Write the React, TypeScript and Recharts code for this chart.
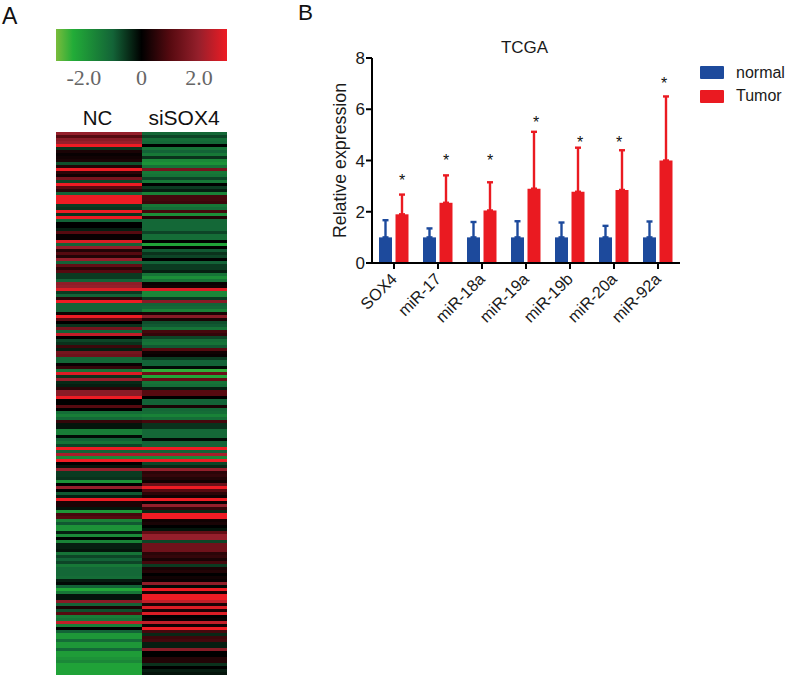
import React from "react";
import { BarChart, ComposedChart, Bar, Line, Cell, XAxis, YAxis, ErrorBar, Legend } from "recharts";

const SANS = "'Liberation Sans', Arial, sans-serif";
const SERIF = "'Liberation Serif', serif";

// Panel A: heatmap, one value per row, top to bottom
const ncValues = [
  2,1,1.8,2,3,-0.5,0.3,0.1,0.2,0.3,-0.8,0.4,3,0.5,0.2,1.5,-0.7,3,1,0.5,-1,3,3,3,-0.6,-0.5,3,-0.5,3,-1,0,0,-0.3,1,0.1,0.1,2.8,-1,2,0.4,1,0.4,2,-1,1.2,0.5,
  1,-0.6,-0.6,-1,1.9,2,2.8,-0.6,-1,0.5,3,-1,-1,-1,0.2,3,1,0,-0.5,1.5,-1,2.5,0,-0.7,-0.5,0.7,-0.3,1.5,1.4,-1.1,-1.1,0.1,0.6,-1.3,2.8,-0.5,2,-0.4,-0.3,0.5,1.8,1.8,3,0,0,1,0,
  -1.2,-1.5,-1.1,0.6,-0.2,-0.2,-1.5,-1.5,-0.1,-1,-1.3,-0.7,3,-1,2.2,-1.7,3,0,-0.2,2,-0.6,-0.6,-0.5,-1.9,0,2,0,-0.9,-0.3,3,0.3,0.3,-0.2,-2,0.8,1,-1.6,-0.9,-1.9,-1.9,-0.3,-1.7,0,-1.6,-0.3,-0.3,
  -0.2,-1.3,-0.7,-1,-0.7,-1.4,-1.1,-1.1,-1.1,-1.2,-0.3,-0.1,-1,-2.3,-1.4,-0.2,-0.2,1.8,-1,0.3,-0.8,1,-1.5,-1.3,2.5,-1.5,0,-1,-2,-2,-1.2,-2,-2,-1.1,-2.1,-2.1,-1.9,-1.7,-2.2,-2.2,-2.2,-2.2,
];
const siValues = [
  -1.1,-0.7,-1.2,-1.1,0,-1.3,-1,-1.4,-0.5,-1.7,-1.9,-1.3,1.5,-1.4,-1.3,-0.7,-1.4,0,-0.6,-0.3,-1.6,0.8,0.8,0.7,-1.4,-1.2,0.8,-1.8,0.4,-1.1,-1.1,-1.1,-1.1,-0.7,-1.2,-1.2,0,-2.2,0,-0.9,-0.5,-0.7,0,-1,-0.6,-0.6,
  -0.3,-1.3,-1.8,-1.3,0.1,0.2,2.8,-1.7,-1.7,-0.6,1.8,-1,-1.1,-1.6,0.3,1.8,0.3,-0.8,-0.9,-1.3,0.8,0.6,-0.7,-1.2,-1.3,-0.9,1,0.2,0.1,-0.6,-1,-1,-0.1,-2.5,1.3,-2.3,1.2,-1.3,-1.2,-0.3,1,1,0,-1,-1,0.3,-1.1,
  -1.2,-1.6,-1.2,0.8,-0.5,-0.5,-1.1,-1.1,-1.1,-0.1,-1,-1,3,-1,2.2,-1.7,3,-0.7,-0.4,2,0.5,0.6,0.4,0.2,1.3,3,1,0.5,0.2,3,0.1,2,0.6,-0.4,3,3,0.2,0.3,0,-0.2,1.2,2,2,-0.7,1.4,1.4,
  1.4,0.5,0.6,0.3,0.8,-0.6,0.3,0.4,0,0.2,0.1,1.9,-0.1,3,0.3,3,3,2.5,0.3,2.8,0.3,2.8,0,0.1,2.5,0.2,3,0.8,-0.4,0.7,0.8,-0.3,-0.3,1.8,0,0,0.4,0.4,-0.5,0,-0.3,-0.2,
];
const heatColumns = ["NC", "siSOX4"];
const scaleTicks = [-2, 0, 2];
const scaleStops: [number, string][] = [
  [-3, "#7abc3c"], [-2.4, "#22ac38"], [-1, "#136337"], [0, "#000000"],
  [1, "#560a10"], [2, "#951f2b"], [3, "#ed1c24"],
];

// Panel B: bars
const categories = ["SOX4", "miR-17", "miR-18a", "miR-19a", "miR-19b", "miR-20a", "miR-92a"];
const normalMean = [1, 1, 1, 1, 1, 1, 1];
const normalTop = [1.67, 1.35, 1.6, 1.63, 1.58, 1.45, 1.62];
const tumorMean = [1.9, 2.35, 2.05, 2.9, 2.78, 2.85, 4.0];
const tumorTop = [2.67, 3.42, 3.15, 5.12, 4.5, 4.4, 6.5];
const starLevel = [3.02, 3.77, 3.77, 5.28, 4.5, 4.5, 6.78];
const STAR_DX = [8, 8, 8, 10, 10, 5, 6];
const yTicks = [0, 2, 4, 6, 8];

const BLUE = "#1d4a9c";
const RED = "#ea1a21";

function hex(c: string) {
  return [1, 3, 5].map((i) => parseInt(c.slice(i, i + 2), 16));
}
function colorOf(v: number) {
  for (let i = 1; i < scaleStops.length; i++) {
    const [v1, c1] = scaleStops[i];
    const [v0, c0] = scaleStops[i - 1];
    if (v <= v1) {
      const t = (v - v0) / (v1 - v0);
      const a = hex(c0);
      const b = hex(c1);
      return `rgb(${a.map((x, k) => Math.round(x + (b[k] - x) * t)).join(",")})`;
    }
  }
  return scaleStops[scaleStops.length - 1][1];
}

const heatRows = ncValues.map((nc, i) => ({ row: i, nc, si: siValues[i], cell: 1 }));
const barRows = categories.map((name, i) => ({
  name,
  normal: normalMean[i],
  normalErr: [0, normalTop[i] - normalMean[i]],
  Tumor: tumorMean[i],
  tumorErr: [0, tumorTop[i] - tumorMean[i]],
  star: starLevel[i],
}));
const scaleRow = [{ name: "scale", range: [-2.97, 2.97] }];

const abs = (left: number, top: number): React.CSSProperties => ({ position: "absolute", left, top });

function XTick(props: any) {
  const { x, y, payload } = props;
  return (
    <text
      x={x + 4}
      y={y + 9}
      textAnchor="end"
      fontFamily={SANS}
      fontSize={16.3}
      fill="#1a1a1a"
      transform={`rotate(-45 ${x + 4} ${y + 9})`}
    >
      {payload.value}
    </text>
  );
}

function StarDot(props: any) {
  const { cx, cy, index } = props;
  return (
    <text key={index} x={cx + STAR_DX[index]} y={cy} textAnchor="middle" fontFamily={SANS} fontSize={16} fill="#111">
      *
    </text>
  );
}

function LegendBox() {
  return (
    <div style={{ width: 107, fontFamily: SANS, fontSize: 16, color: "#1a1a1a" }}>
      {[["normal", BLUE], ["Tumor", RED]].map(([label, color], i) => (
        <div key={label} style={{ position: "absolute", left: 20, top: 8 + i * 23.5, height: 13, display: "flex", alignItems: "center" }}>
          <span style={{ width: 24, height: 13, background: color, display: "inline-block", marginRight: 12, borderRadius: 1 }} />
          <span>{label}</span>
        </div>
      ))}
    </div>
  );
}

export default function App() {
  return (
    <div style={{ position: "absolute", left: 0, top: 0, width: 787, height: 677, background: "#fff", overflow: "hidden" }}>
      <div style={{ ...abs(2, 3.5), fontFamily: SANS, fontSize: 23, lineHeight: "24px", color: "#111" }}>A</div>

      {/* Colour scale */}
      <div style={abs(56, 29)}>
        <BarChart
          width={171}
          height={62}
          data={scaleRow}
          layout="vertical"
          margin={{ top: 0, right: 0, bottom: 0, left: 0 }}
          barCategoryGap={0}
        >
          <defs>
            <linearGradient id="scaleGrad" x1="0" y1="0" x2="1" y2="0">
              {scaleStops.map(([v, c]) => (
                <stop key={v} offset={`${((v + 3) / 6) * 100}%`} stopColor={c} />
              ))}
            </linearGradient>
          </defs>
          <XAxis
            type="number"
            domain={[-2.97, 2.97]}
            ticks={scaleTicks}
            axisLine={false}
            tickLine={false}
            height={30}
            tick={{ fontFamily: SERIF, fontSize: 22, fill: "#666" }}
            tickFormatter={(v: number) => (v === 0 ? "0" : v.toFixed(1))}
            interval={0}
          />
          <YAxis type="category" dataKey="name" hide />
          <Bar dataKey="range" fill="url(#scaleGrad)" isAnimationActive={false} />
        </BarChart>
      </div>

      {/* Column heads */}
      <div style={{ ...abs(55, 106), width: 85, textAlign: "center", fontFamily: SANS, fontSize: 20.5, lineHeight: "24px", color: "#111" }}>{heatColumns[0]}</div>
      <div style={{ ...abs(141, 106), width: 86, textAlign: "center", fontFamily: SANS, fontSize: 21, lineHeight: "24px", color: "#111" }}>{heatColumns[1]}</div>

      {/* Heatmap */}
      <div style={{ ...abs(56, 132), filter: "blur(0.7px)" }}>
        <BarChart
          width={171}
          height={543}
          data={heatRows}
          layout="vertical"
          margin={{ top: 0, right: 0, bottom: 0, left: 0 }}
          barCategoryGap={0}
          barGap={0}
        >
          <XAxis type="number" domain={[0, 2]} hide />
          <YAxis type="category" dataKey="row" hide />
          <Bar dataKey="cell" stackId="h" isAnimationActive={false} shapeRendering="crispEdges">
            {ncValues.map((v, i) => (
              <Cell key={i} fill={colorOf(v)} />
            ))}
          </Bar>
          <Bar dataKey="cell" stackId="h" isAnimationActive={false} shapeRendering="crispEdges">
            {siValues.map((v, i) => (
              <Cell key={i} fill={colorOf(v)} />
            ))}
          </Bar>
        </BarChart>
      </div>

      {/* Bar panel */}
      <div style={abs(0, 0)}>
        <ComposedChart
          width={787}
          height={340}
          data={barRows}
          margin={{ top: 58, right: 0, bottom: 0, left: 0 }}
          barSize={13}
          barGap={3.5}
        >
          <text x={524.5} y={53} textAnchor="middle" fontFamily={SANS} fontSize={17} fill="#1a1a1a">
            TCGA
          </text>
          <XAxis
            dataKey="name"
            height={77}
            interval={0}
            tick={<XTick />}
            tickSize={6}
            axisLine={{ stroke: "#000", strokeWidth: 2 }}
            tickLine={{ stroke: "#000", strokeWidth: 2 }}
          />
          <YAxis
            width={372}
            domain={[0, 8]}
            ticks={yTicks}
            tickSize={6}
            tickMargin={1}
            axisLine={{ stroke: "#000", strokeWidth: 2 }}
            tickLine={{ stroke: "#000", strokeWidth: 2 }}
            tick={{ fontFamily: SANS, fontSize: 17, fill: "#1a1a1a" }}
            label={{ value: "Relative expression", angle: -90, position: "center", dx: 154, fontFamily: SANS, fontSize: 17.8, fill: "#1a1a1a" }}
          />
          <Legend layout="vertical" align="right" verticalAlign="top" wrapperStyle={{ width: 107 }} content={() => <LegendBox />} />
          <Bar dataKey="normal" fill={BLUE} isAnimationActive={false}>
            <ErrorBar dataKey="normalErr" direction="y" stroke={BLUE} strokeWidth={2.4} width={3} isAnimationActive={false} />
          </Bar>
          <Bar dataKey="Tumor" fill={RED} isAnimationActive={false}>
            <ErrorBar dataKey="tumorErr" direction="y" stroke={RED} strokeWidth={2.4} width={3} isAnimationActive={false} />
          </Bar>
          <Line dataKey="star" stroke="none" dot={(p: any) => <StarDot {...p} />} activeDot={false} legendType="none" isAnimationActive={false} />
        </ComposedChart>
      </div>

      <div style={{ ...abs(298, 0), fontFamily: SANS, fontSize: 22.5, lineHeight: "normal", color: "#111" }}>B</div>
    </div>
  );
}
